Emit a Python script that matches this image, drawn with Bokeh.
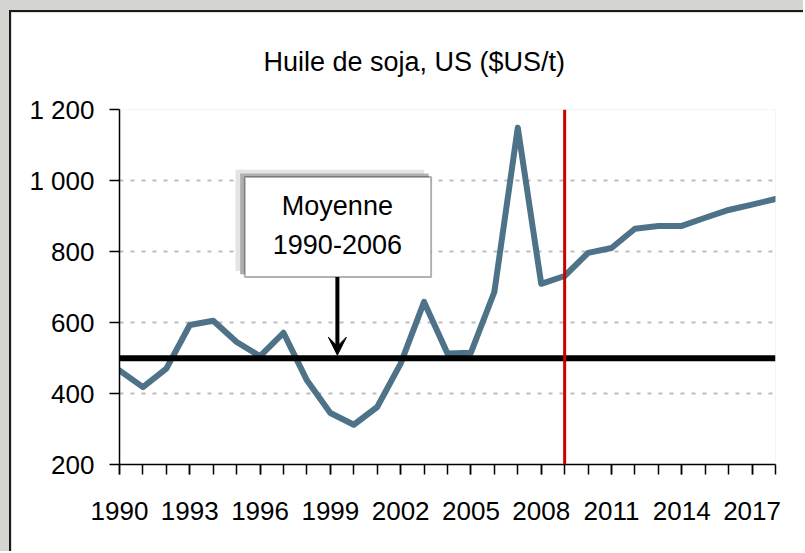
from bokeh.plotting import figure
from bokeh.layouts import column
from bokeh.models import (Range1d, FixedTicker, Title, Span, Label, Arrow, VeeHead,
                          BoxAnnotation)
from bokeh.embed import file_html
from bokeh.resources import INLINE

# ---- data ----
years = list(range(1990, 2019))
prices = [465, 418, 470, 593, 605, 545, 505, 571, 437, 345, 312, 362, 484, 658,
          513, 515, 686, 1149, 709, 731, 796, 810, 864, 872, 872, 895, 917, 932, 948]
mean_start = [1990]
mean_end = [2018]
mean_value = [499]
forecast_start = 2009
label_years = [1990, 1993, 1996, 1999, 2002, 2005, 2008, 2011, 2014, 2017]
y_ticks = [200, 400, 600, 800, 1000, 1200]
y_tick_labels = ["200", "400", "600", "800", "1 000", "1 200"]
title_text = "Huile de soja, US ($US/t)"
note_lines = ["Moyenne", "1990-2006"]

FONT = "Liberation Sans"

p = figure(width=794, height=541, output_backend="svg", toolbar_location=None,
           x_range=Range1d(1990, 2018), y_range=Range1d(200, 1200),
           min_border_left=108, min_border_right=30, min_border_top=0,
           min_border_bottom=89)
p.styles = {"border-top": "2px solid #1a1a1a", "border-left": "2px solid #1a1a1a"}
p.outline_line_color = None
p.background_fill_color = "white"
p.border_fill_color = "white"

p.add_layout(Title(text=title_text, text_font=FONT, text_font_size="27px",
                   text_font_style="normal", text_color="black", align="left",
                   offset=144, standoff=65), "above")

# axes
p.xaxis.ticker = FixedTicker(ticks=label_years, minor_ticks=years)
p.yaxis.ticker = FixedTicker(ticks=y_ticks)
p.yaxis.major_label_overrides = {t: l for t, l in zip(y_ticks, y_tick_labels)}
for ax in (p.xaxis, p.yaxis):
    ax.axis_line_color = "black"
    ax.axis_line_width = 1.5
    ax.major_tick_line_color = "black"
    ax.major_tick_line_width = 1.5
    ax.major_tick_in = 0
    ax.major_tick_out = 10
    ax.minor_tick_line_color = "black"
    ax.minor_tick_line_width = 1.5
    ax.minor_tick_in = 0
    ax.minor_tick_out = 10
    ax.major_label_text_font = FONT
    ax.major_label_text_font_size = "26px"
    ax.major_label_text_color = "black"
p.yaxis.minor_tick_line_color = None
p.yaxis.major_label_standoff = 15
p.xaxis.major_label_standoff = 27

p.xgrid.grid_line_color = None
p.ygrid.ticker = FixedTicker(ticks=y_ticks[1:])
p.ygrid.grid_line_color = "#bdbdbd"
p.ygrid.grid_line_width = 2
p.ygrid.grid_line_dash = "4 7"

# annotation box shadow + box
p.add_layout(BoxAnnotation(left=1994.95, right=2003.0, bottom=745, top=1030,
                           fill_color="#e4e4e4", fill_alpha=1, line_color=None))
p.add_layout(BoxAnnotation(left=1995.15, right=2003.2, bottom=736, top=1020,
                           fill_color="#b0b0b0", fill_alpha=1, line_color=None))
p.add_layout(BoxAnnotation(left=1995.35, right=2003.3, bottom=728, top=1010,
                           fill_color="white", fill_alpha=1, line_color="black",
                           line_width=2))

# series
p.line(years, prices, line_color="#4e7389", line_width=6, line_join="round",
       line_cap="round")
p.segment(x0=mean_start, y0=mean_value, x1=mean_end, y1=mean_value,
          line_color="black", line_width=6, line_cap="butt")
p.add_layout(Span(location=forecast_start, dimension="height", line_color="#cc0000",
                  line_width=3))

# note text + arrow
p.add_layout(Label(x=1999.3, y=927, text=note_lines[0], text_font=FONT,
                   text_font_size="27px", text_align="center",
                   text_baseline="middle", text_color="black"))
p.add_layout(Label(x=1999.3, y=819, text=note_lines[1], text_font=FONT,
                   text_font_size="27px", text_align="center",
                   text_baseline="middle", text_color="black"))
p.add_layout(Arrow(x_start=1999.3, y_start=728, x_end=1999.3, y_end=508,
                   line_color="black", line_width=4,
                   end=VeeHead(size=18, fill_color="black", line_color="black")))

layout = column(p, styles={"background-color": "#d4d4d0", "padding-top": "10px",
                           "padding-left": "9px"})

open("out.html", "w").write(file_html(layout, INLINE))
